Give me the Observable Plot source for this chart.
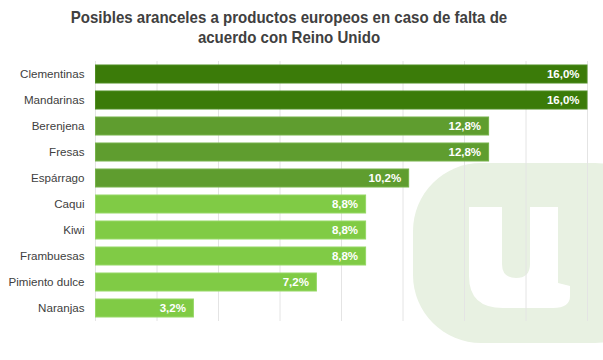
<!DOCTYPE html>
<html>
<head>
<meta charset="utf-8">
<script src="https://cdn.jsdelivr.net/npm/d3@7"></script>
<script src="https://cdn.jsdelivr.net/npm/@observablehq/plot@0.6"></script>
<style>
  html, body { margin: 0; padding: 0; background: #fff; }
  #wrap { width: 603px; height: 360px; position: relative; overflow: hidden; font-family: "Liberation Sans", Arial, sans-serif; }
  #title { height: 52px; box-sizing: border-box; padding-top: 8px; width: 578px; text-align: center; font-weight: bold; font-size: 17px; line-height: 19.5px; color: #404040; transform: scaleX(0.885); transform-origin: 289px 0; white-space: nowrap; }
</style>
</head>
<body>
<div id="wrap">
  <div id="title">Posibles aranceles a productos europeos en caso de falta de<br>acuerdo con Reino Unido</div>
  <div id="chart"></div>
</div>
<script>
const categories = ["Clementinas", "Mandarinas", "Berenjena", "Fresas", "Espárrago", "Caqui", "Kiwi", "Frambuesas", "Pimiento dulce", "Naranjas"];
const values = [16.0, 16.0, 12.8, 12.8, 10.2, 8.8, 8.8, 8.8, 7.2, 3.2];
const groups = ["alto", "alto", "medio", "medio", "medio", "bajo", "bajo", "bajo", "bajo", "bajo"];
const gridTicks = [0, 2, 4, 6, 8, 10, 12, 14, 16];

const groupColors = {alto: "#3b7b09", medio: "#5f9d2f", bajo: "#80cb45"};
const groupStroke = {alto: "#4f8d22", medio: "#76b24a", bajo: "#96d866"};

const data = categories.map((c, i) => ({cat: c, v: values[i], g: groups[i]}));

function watermark(index, scales, values, dims) {
  const ns = "http://www.w3.org/2000/svg";
  const g = document.createElementNS(ns, "g");
  const r = document.createElementNS(ns, "rect");
  r.setAttribute("x", 413); r.setAttribute("y", 111);
  r.setAttribute("width", 250); r.setAttribute("height", 180);
  r.setAttribute("rx", 68); r.setAttribute("ry", 68);
  r.setAttribute("fill", "#e8f1e2");
  g.appendChild(r);
  const p = document.createElementNS(ns, "path");
  p.setAttribute("d", "M469,155 L502,155 L502,212 Q502,226 516,226 Q530,226 530,212 L530,155 L558,155 L558,231 L570,234 L570,244 Q570,256 553,256 L503,256 Q469,256 469,224 Z");
  p.setAttribute("fill", "#ffffff");
  g.appendChild(p);
  return g;
}

const chart = Plot.plot({
  width: 603,
  height: 308,
  marginLeft: 95,
  marginRight: 16,
  marginTop: 9,
  marginBottom: 39,
  style: {fontFamily: "'Liberation Sans', Arial, sans-serif", background: "transparent"},
  x: {domain: [0, 16], axis: null},
  y: {domain: categories, paddingInner: 0.31, paddingOuter: 0.155, label: null, tickSize: 0, tickPadding: 11},
  marks: [
    watermark,
    Plot.ruleX(gridTicks, {stroke: "#e4e4e4", strokeWidth: 1}),
    Plot.barX(data, {x: "v", y: "cat", fill: d => groupColors[d.g], stroke: d => groupStroke[d.g], strokeWidth: 1, insetLeft: 0.5}),
    Plot.text(data, {x: "v", y: "cat", text: d => d.v.toFixed(1).replace(".", ",") + "%", textAnchor: "end", dx: -8, fill: "white", fontWeight: "bold", fontSize: 11.5}),
    Plot.axisY({tickSize: 0, tickPadding: 11, fontSize: 11.6, color: "#404040", label: null})
  ]
});
document.getElementById("chart").appendChild(chart);
</script>
</body>
</html>
